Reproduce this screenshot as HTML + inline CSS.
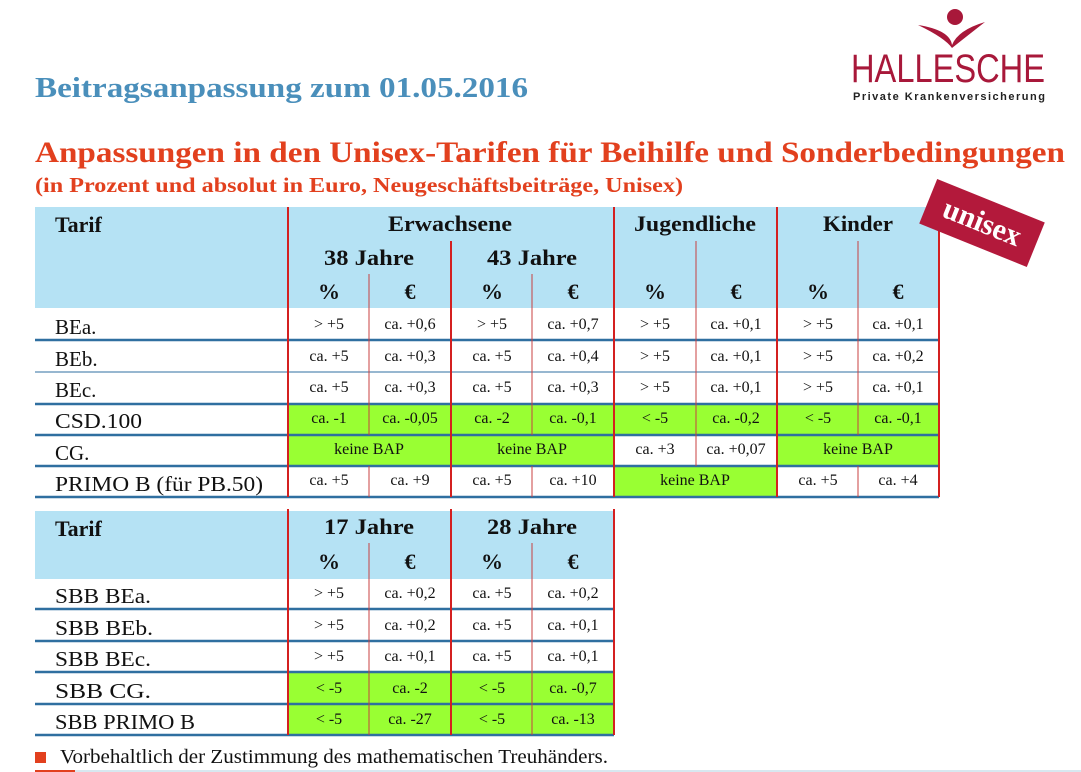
<!DOCTYPE html>
<html><head><meta charset="utf-8"><style>
html,body{margin:0;padding:0;background:#fff;}
svg{display:block;}
</style></head><body>
<svg width="1081" height="772" viewBox="0 0 1081 772" xmlns="http://www.w3.org/2000/svg" font-family="Liberation Serif, serif">
<!-- titles -->
<text x="35" y="97" font-size="29" font-weight="bold" fill="#4a8fbb" textLength="493" lengthAdjust="spacingAndGlyphs">Beitragsanpassung zum 01.05.2016</text>
<text x="35" y="162" font-size="30" font-weight="bold" fill="#e2401e" textLength="1030" lengthAdjust="spacingAndGlyphs">Anpassungen in den Unisex-Tarifen für Beihilfe und Sonderbedingungen</text>
<text x="35" y="192" font-size="21" font-weight="bold" fill="#e2401e" textLength="648" lengthAdjust="spacingAndGlyphs">(in Prozent und absolut in Euro, Neugeschäftsbeiträge, Unisex)</text>
<!-- logo -->
<circle cx="955" cy="17" r="8" fill="#a8183a"/>
<path d="M918 25 Q950 30 952 45 Q958 30 985 22 Q962 40 952 48 Q945 38 918 25Z" fill="#a8183a"/>
<text x="851" y="82" font-family="Liberation Sans, sans-serif" font-size="40" fill="#a8183a" textLength="194" lengthAdjust="spacingAndGlyphs">HALLESCHE</text>
<text x="853" y="100" font-family="Liberation Sans, sans-serif" font-size="11" font-weight="bold" fill="#222" textLength="192" lengthAdjust="spacing">Private Krankenversicherung</text>
<!-- table 1 -->
<rect x="35" y="207" width="904" height="101" fill="#b5e2f4"/>
<g fill="#99ff33">
<rect x="288" y="404" width="651" height="31"/>
<rect x="288" y="435" width="326" height="31"/>
<rect x="777" y="435" width="162" height="31"/>
<rect x="614" y="466" width="163" height="31"/>
</g>
<g stroke="#2f6fa0">
<line x1="35" y1="340" x2="939" y2="340" stroke-width="2.5"/>
<line x1="35" y1="372" x2="939" y2="372" stroke-width="1"/>
<line x1="35" y1="404" x2="939" y2="404" stroke-width="2.5"/>
<line x1="35" y1="435" x2="939" y2="435" stroke-width="2.5"/>
<line x1="35" y1="466" x2="939" y2="466" stroke-width="2.5"/>
<line x1="35" y1="497" x2="939" y2="497" stroke-width="2.5"/>
</g>
<g stroke="#d42020" stroke-width="2">
<line x1="288" y1="207" x2="288" y2="497"/>
<line x1="614" y1="207" x2="614" y2="497"/>
<line x1="777" y1="207" x2="777" y2="497"/>
<line x1="939" y1="207" x2="939" y2="497"/>
<line x1="451" y1="241" x2="451" y2="497"/>
</g>
<g stroke="#c84040" stroke-width="1">
<line x1="369" y1="274" x2="369" y2="435"/>
<line x1="369" y1="466" x2="369" y2="497"/>
<line x1="532" y1="274" x2="532" y2="435"/>
<line x1="532" y1="466" x2="532" y2="497"/>
<line x1="696" y1="241" x2="696" y2="466"/>
<line x1="858" y1="241" x2="858" y2="435"/>
<line x1="858" y1="466" x2="858" y2="497"/>
</g>
<g font-size="22" font-weight="bold" fill="#111" text-anchor="middle">
<text x="450" y="231" textLength="124" lengthAdjust="spacingAndGlyphs">Erwachsene</text>
<text x="695" y="231" textLength="122" lengthAdjust="spacingAndGlyphs">Jugendliche</text>
<text x="858" y="231" textLength="70" lengthAdjust="spacingAndGlyphs">Kinder</text>
<text x="369" y="265" textLength="90" lengthAdjust="spacingAndGlyphs">38 Jahre</text>
<text x="532" y="265" textLength="90" lengthAdjust="spacingAndGlyphs">43 Jahre</text>
<text x="329" y="299">%</text><text x="410" y="299">€</text>
<text x="492" y="299">%</text><text x="573" y="299">€</text>
<text x="655" y="299">%</text><text x="736" y="299">€</text>
<text x="818" y="299">%</text><text x="898" y="299">€</text>
</g>
<text x="55" y="232" font-size="22" font-weight="bold" fill="#111">Tarif</text>
<g font-size="21" fill="#111">
<text x="55" y="334">BEa.</text>
<text x="55" y="366">BEb.</text>
<text x="55" y="397">BEc.</text>
<text x="55" y="428" textLength="87" lengthAdjust="spacingAndGlyphs">CSD.100</text>
<text x="55" y="460">CG.</text>
<text x="55" y="491" textLength="208" lengthAdjust="spacingAndGlyphs">PRIMO B (für PB.50)</text>
</g>
<g font-size="16" fill="#111" text-anchor="middle">
<text x="329" y="329">&gt; +5</text><text x="410" y="329">ca. +0,6</text><text x="492" y="329">&gt; +5</text><text x="573" y="329">ca. +0,7</text><text x="655" y="329">&gt; +5</text><text x="736" y="329">ca. +0,1</text><text x="818" y="329">&gt; +5</text><text x="898" y="329">ca. +0,1</text>
<text x="329" y="361">ca. +5</text><text x="410" y="361">ca. +0,3</text><text x="492" y="361">ca. +5</text><text x="573" y="361">ca. +0,4</text><text x="655" y="361">&gt; +5</text><text x="736" y="361">ca. +0,1</text><text x="818" y="361">&gt; +5</text><text x="898" y="361">ca. +0,2</text>
<text x="329" y="392">ca. +5</text><text x="410" y="392">ca. +0,3</text><text x="492" y="392">ca. +5</text><text x="573" y="392">ca. +0,3</text><text x="655" y="392">&gt; +5</text><text x="736" y="392">ca. +0,1</text><text x="818" y="392">&gt; +5</text><text x="898" y="392">ca. +0,1</text>
<text x="329" y="423">ca. -1</text><text x="410" y="423">ca. -0,05</text><text x="492" y="423">ca. -2</text><text x="573" y="423">ca. -0,1</text><text x="655" y="423">&lt; -5</text><text x="736" y="423">ca. -0,2</text><text x="818" y="423">&lt; -5</text><text x="898" y="423">ca. -0,1</text>
<text x="369" y="454">keine BAP</text><text x="532" y="454">keine BAP</text><text x="655" y="454">ca. +3</text><text x="736" y="454">ca. +0,07</text><text x="858" y="454">keine BAP</text>
<text x="329" y="485">ca. +5</text><text x="410" y="485">ca. +9</text><text x="492" y="485">ca. +5</text><text x="573" y="485">ca. +10</text><text x="695" y="485">keine BAP</text><text x="818" y="485">ca. +5</text><text x="898" y="485">ca. +4</text>
</g>
<!-- table 2 -->
<rect x="35" y="511" width="579" height="68" fill="#b5e2f4"/>
<rect x="288" y="672" width="326" height="63" fill="#99ff33"/>
<g stroke="#2f6fa0" stroke-width="2.5">
<line x1="35" y1="609" x2="614" y2="609"/>
<line x1="35" y1="641" x2="614" y2="641"/>
<line x1="35" y1="672" x2="614" y2="672"/>
<line x1="35" y1="704" x2="614" y2="704"/>
<line x1="35" y1="735" x2="614" y2="735"/>
</g>
<g stroke="#d42020" stroke-width="2">
<line x1="288" y1="509" x2="288" y2="735"/>
<line x1="451" y1="509" x2="451" y2="735"/>
<line x1="614" y1="509" x2="614" y2="735"/>
</g>
<g stroke="#c84040" stroke-width="1">
<line x1="369" y1="543" x2="369" y2="735"/>
<line x1="532" y1="543" x2="532" y2="735"/>
</g>
<text x="55" y="536" font-size="22" font-weight="bold" fill="#111">Tarif</text>
<g font-size="22" font-weight="bold" fill="#111" text-anchor="middle">
<text x="369" y="534" textLength="90" lengthAdjust="spacingAndGlyphs">17 Jahre</text><text x="532" y="534" textLength="90" lengthAdjust="spacingAndGlyphs">28 Jahre</text>
<text x="329" y="569">%</text><text x="410" y="569">€</text><text x="492" y="569">%</text><text x="573" y="569">€</text>
</g>
<g font-size="21" fill="#111">
<text x="55" y="603" textLength="96" lengthAdjust="spacingAndGlyphs">SBB BEa.</text>
<text x="55" y="635" textLength="98" lengthAdjust="spacingAndGlyphs">SBB BEb.</text>
<text x="55" y="666" textLength="96" lengthAdjust="spacingAndGlyphs">SBB BEc.</text>
<text x="55" y="698" textLength="96" lengthAdjust="spacingAndGlyphs">SBB CG.</text>
<text x="55" y="729" textLength="140" lengthAdjust="spacingAndGlyphs">SBB PRIMO B</text>
</g>
<g font-size="16" fill="#111" text-anchor="middle">
<text x="329" y="598">&gt; +5</text><text x="410" y="598">ca. +0,2</text><text x="492" y="598">ca. +5</text><text x="573" y="598">ca. +0,2</text>
<text x="329" y="630">&gt; +5</text><text x="410" y="630">ca. +0,2</text><text x="492" y="630">ca. +5</text><text x="573" y="630">ca. +0,1</text>
<text x="329" y="661">&gt; +5</text><text x="410" y="661">ca. +0,1</text><text x="492" y="661">ca. +5</text><text x="573" y="661">ca. +0,1</text>
<text x="329" y="693">&lt; -5</text><text x="410" y="693">ca. -2</text><text x="492" y="693">&lt; -5</text><text x="573" y="693">ca. -0,7</text>
<text x="329" y="724">&lt; -5</text><text x="410" y="724">ca. -27</text><text x="492" y="724">&lt; -5</text><text x="573" y="724">ca. -13</text>
</g>
<!-- footer -->
<rect x="35" y="752" width="11" height="11" fill="#e2401e"/>
<text x="60" y="763" font-size="20" fill="#111" textLength="548" lengthAdjust="spacingAndGlyphs">Vorbehaltlich der Zustimmung des mathematischen Treuhänders.</text>
<line x1="35" y1="771" x2="1081" y2="771" stroke="#d8e8f0" stroke-width="2"/>
<line x1="35" y1="771" x2="75" y2="771" stroke="#e2401e" stroke-width="2"/>
<!-- unisex badge -->
<g transform="translate(982,223) rotate(22)">
<rect x="-58" y="-24" width="116" height="48" fill="#b3193b"/>
<text x="0" y="9" font-size="30" font-weight="bold" fill="#fff" text-anchor="middle">unisex</text>
</g>
</svg>
</body></html>
